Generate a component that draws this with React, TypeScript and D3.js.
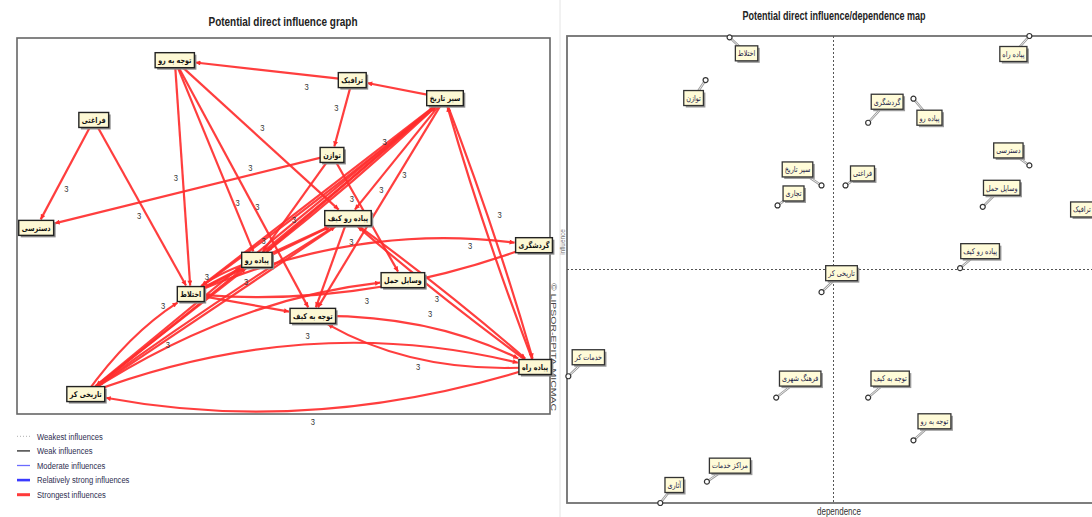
import React, { useEffect, useRef } from 'react';
import * as d3 from 'd3';

// ---------- left panel: potential direct influence graph ----------
const graphVariables = [
  'توجه به رو', 'ترافیک', 'سیر تاریخ', 'فراغتی', 'توازن', 'دسترسی', 'پیاده رو کیف',
  'گردشگری', 'پیاده رو', 'اختلاط', 'وسایل حمل', 'توجه به کیف', 'پیاده راه', 'تاریخی کر',
];

// direct influences shown on the graph [from, to]
const influenceLinks: [string, string][] = [
  ['ترافیک', 'توجه به رو'],
  ['سیر تاریخ', 'ترافیک'],
  ['ترافیک', 'توازن'],
  ['فراغتی', 'دسترسی'],
  ['فراغتی', 'اختلاط'],
  ['توازن', 'دسترسی'],
  ['توجه به رو', 'اختلاط'],
  ['توجه به رو', 'پیاده رو'],
  ['توجه به رو', 'توجه به کیف'],
  ['توجه به رو', 'پیاده رو کیف'],
  ['سیر تاریخ', 'پیاده رو'],
  ['پیاده رو', 'سیر تاریخ'],
  ['سیر تاریخ', 'اختلاط'],
  ['اختلاط', 'سیر تاریخ'],
  ['سیر تاریخ', 'تاریخی کر'],
  ['تاریخی کر', 'سیر تاریخ'],
  ['سیر تاریخ', 'پیاده رو کیف'],
  ['سیر تاریخ', 'توجه به کیف'],
  ['سیر تاریخ', 'پیاده راه'],
  ['پیاده راه', 'سیر تاریخ'],
  ['توازن', 'پیاده رو'],
  ['توازن', 'وسایل حمل'],
  ['پیاده رو کیف', 'توجه به کیف'],
  ['پیاده رو کیف', 'پیاده راه'],
  ['پیاده راه', 'پیاده رو کیف'],
  ['اختلاط', 'گردشگری'],
  ['گردشگری', 'اختلاط'],
  ['اختلاط', 'پیاده رو'],
  ['پیاده رو', 'اختلاط'],
  ['اختلاط', 'توجه به کیف'],
  ['تاریخی کر', 'اختلاط'],
  ['تاریخی کر', 'پیاده رو'],
  ['تاریخی کر', 'پیاده رو کیف'],
  ['پیاده رو کیف', 'تاریخی کر'],
  ['تاریخی کر', 'وسایل حمل'],
  ['تاریخی کر', 'پیاده راه'],
  ['پیاده راه', 'تاریخی کر'],
  ['توجه به کیف', 'پیاده راه'],
  ['پیاده راه', 'توجه به کیف'],
  ['اختلاط', 'پیاده رو کیف'],
  ['پیاده رو', 'پیاده رو کیف'],
];
const linkValues = [
  3, 3, 3, 3, 3, 3, 3, 3, 3, 3, 3, 3, 3, 3, 3, 3, 3, 3, 3, 3, 3,
  3, 3, 3, 3, 3, 3, 3, 3, 3, 3, 3, 3, 3, 3, 3, 3, 3, 3, 3, 3,
];

const legendLabels = [
  'Weakest influences', 'Weak influences', 'Moderate influences',
  'Relatively strong influences', 'Strongest influences',
];

// ---------- right panel: influence / dependence map ----------
const mapVariables = [
  'اختلاط', 'توازن', 'پیاده راه', 'گردشگری', 'پیاده رو', 'دسترسی', 'سیر تاریخ', 'تجاری',
  'فراغتی', 'وسایل حمل', 'ترافیک', 'پیاده رو کیف', 'تاریخی کر', 'خدمات کر', 'فرهنگ شهری',
  'توجه به کیف', 'توجه به رو', 'مراکز خدمات', 'آثاری',
];
const dependence = [12.2, 10.4, 34.7, 22.6, 26.0, 34.7, 19.1, 15.8, 20.9, 31.2, 40.0, 29.5, 19.1, 0.1, 15.7, 22.6, 26.0, 10.5, 7.0];
const influence = [34.9, 31.7, 35.0, 28.5, 30.3, 25.3, 23.8, 22.3, 23.8, 22.2, 21.1, 17.6, 15.8, 9.5, 7.9, 7.9, 4.7, 1.6, 0.0];
const meanDependence = 20;
const meanInfluence = 17.5;

// ---------- layout (not data) ----------
// where MICMAC placed each variable, in % of the graph frame
const nodePlacement: Record<string, [number, number]> = {
  'توجه به رو': [29.6, 5.9],
  'ترافیک': [62.9, 11.2],
  'سیر تاریخ': [80.3, 16.0],
  'فراغتی': [14.4, 21.8],
  'توازن': [59.1, 31.1],
  'دسترسی': [3.6, 50.5],
  'پیاده رو کیف': [62.1, 47.9],
  'گردشگری': [97.0, 55.1],
  'پیاده رو': [45.0, 59.0],
  'اختلاط': [32.6, 68.1],
  'وسایل حمل': [72.4, 64.4],
  'توجه به کیف': [55.5, 73.9],
  'پیاده راه': [97.2, 87.5],
  'تاریخی کر': [12.9, 94.7],
};
// per link: [curvature px, value label position along link (null = none), label offset px]
const linkShape: [number, number | null, number][] = [
  [0, 0.25, -12], [0, null, 0], [0, 0.4, 8], [0, 0.6, -8], [0, 0.53, 7], [0, 0.27, 7],
  [0, 0.5, 7], [0, 0.72, -4], [0, 0.58, -3], [0, 0.47, -9], [0, 0.3, 6], [5, null, 0],
  [0, null, 0], [5, null, 0], [0, 0.496, 5], [6, null, 0], [0, 0.72, -8], [0, 0.34, -5],
  [-6, 0.45, -12], [-6, null, 0], [0, 0.58, -7], [0, 0.33, 4], [0, 0.2, -11], [-5, 0.5, 10],
  [-5, null, 0], [-48, 0.82, 6], [-38, 0.5, -12], [0, 0.3, -8], [6, null, 0], [0, null, 0],
  [-14, 0.8, -6], [0, null, 0], [0, 0.62, -4], [6, null, 0], [-40, 0.28, -3], [-70, 0.5, -10],
  [-56, 0.5, -13], [-28, 0.5, -14], [-34, 0.5, -9], [0, null, 0], [0, null, 0],
];
// label box offset from its point on the map
const labelOffset: Record<string, [number, number]> = {
  'اختلاط': [17, 16], 'توازن': [-12, 18], 'پیاده راه': [-16, 18], 'گردشگری': [19, -21],
  'پیاده رو': [16, 19], 'دسترسی': [-21, -15], 'سیر تاریخ': [-24, -16], 'تجاری': [16, -12],
  'فراغتی': [17, -12], 'وسایل حمل': [19, -19], 'ترافیک': [-18, -12], 'پیاده رو کیف': [20, -17],
  'تاریخی کر': [20, -19], 'خدمات کر': [20, -19], 'فرهنگ شهری': [24, -19], 'توجه به کیف': [22, -19],
  'توجه به رو': [21, -19], 'مراکز خدمات': [23, -16], 'آثاری': [14, -18],
};

const sans = "'Liberation Sans', Arial, sans-serif";
const persian = "'DejaVu Sans', sans-serif";
const red = '#ff2e2e';
const squeeze = 0.8; // narrow look of the original fonts

export default function App() {
  const svgRef = useRef<SVGSVGElement>(null);

  useEffect(() => {
    const svg = d3.select(svgRef.current);
    svg.selectAll('*').remove();

    // narrow text helper
    const narrowText = (
      parent: d3.Selection<any, any, any, any>, x: number, y: number, txt: string | number,
      size: number, anchor = 'start', fill = '#333'
    ) =>
      parent.append('text')
        .attr('transform', `translate(${x},${y}) scale(${squeeze},1)`)
        .attr('text-anchor', anchor).attr('dy', '0.35em')
        .attr('font-family', sans).attr('font-size', size).attr('fill', fill)
        .text(txt);

    svg.append('defs').append('marker')
      .attr('id', 'arrow').attr('viewBox', '0 0 10 10').attr('refX', 10).attr('refY', 5)
      .attr('markerWidth', 6).attr('markerHeight', 5).attr('markerUnits', 'userSpaceOnUse')
      .attr('orient', 'auto')
      .append('path').attr('d', 'M0,0L10,5L0,10z').attr('fill', red);

    // divider between the two panels
    svg.append('line').attr('x1', 560).attr('x2', 560).attr('y1', 0).attr('y2', 517)
      .attr('stroke', '#e4e4e4');

    // ===== left panel =====
    const frame = { x: 17, y: 38, w: 533, h: 376 };
    const gx = d3.scaleLinear().domain([0, 100]).range([frame.x, frame.x + frame.w]);
    const gy = d3.scaleLinear().domain([0, 100]).range([frame.y, frame.y + frame.h]);

    svg.append('text').attr('x', 283).attr('y', 26).attr('text-anchor', 'middle')
      .attr('font-family', sans).attr('font-size', 13).attr('font-weight', 'bold')
      .attr('fill', '#222').attr('textLength', 149).attr('lengthAdjust', 'spacingAndGlyphs')
      .text('Potential direct influence graph');

    svg.append('rect').attr('x', frame.x).attr('y', frame.y).attr('width', frame.w)
      .attr('height', frame.h).attr('fill', 'white').attr('stroke', '#666').attr('stroke-width', 1.6);

    svg.append('text').attr('transform', 'translate(551,283) rotate(90)')
      .attr('font-family', sans).attr('font-size', 8).attr('fill', '#444')
      .attr('textLength', 128).attr('lengthAdjust', 'spacingAndGlyphs')
      .text('© LIPSOR-EPITA-MICMAC');

    const linkLayer = svg.append('g');
    const valueLayer = svg.append('g');
    const nodeLayer = svg.append('g');

    const pos = new Map<string, [number, number]>(
      graphVariables.map(v => [v, [gx(nodePlacement[v][0]), gy(nodePlacement[v][1])]])
    );
    const half = new Map<string, [number, number]>();

    const nodes = nodeLayer.selectAll('g').data(graphVariables).join('g')
      .attr('transform', d => `translate(${pos.get(d)![0]},${pos.get(d)![1]})`);
    nodes.append('text').attr('text-anchor', 'middle').attr('dy', '0.35em')
      .attr('transform', `scale(${squeeze},1)`)
      .attr('font-family', persian).attr('font-size', 8).attr('font-weight', 'bold')
      .attr('fill', '#111').text(d => d);
    nodes.each(function (d) {
      const g = d3.select(this);
      const w = (g.select('text').node() as SVGTextElement).getComputedTextLength() * squeeze + 6;
      const h = 15;
      half.set(d, [w / 2, h / 2]);
      g.insert('rect', 'text').attr('x', -w / 2 + 2).attr('y', -h / 2 + 2)
        .attr('width', w).attr('height', h).attr('fill', '#8c8c8c');
      g.insert('rect', 'text').attr('x', -w / 2).attr('y', -h / 2)
        .attr('width', w).attr('height', h).attr('fill', '#fdf8d4')
        .attr('stroke', '#222').attr('stroke-width', 1.4);
    });

    influenceLinks.forEach(([a, b], i) => {
      const [bend, lt, lo] = linkShape[i];
      const p0 = pos.get(a)!;
      const p1 = pos.get(b)!;
      const dx = p1[0] - p0[0];
      const dy = p1[1] - p0[1];
      const len = Math.hypot(dx, dy);
      const nx = -dy / len;
      const ny = dx / len;
      const c: [number, number] = [(p0[0] + p1[0]) / 2 + nx * bend, (p0[1] + p1[1]) / 2 + ny * bend];
      const [hw, hh] = half.get(b)!;
      const vx = c[0] - p1[0];
      const vy = c[1] - p1[1];
      const s = Math.min(
        vx ? (hw + 1) / Math.abs(vx) : Infinity,
        vy ? (hh + 1) / Math.abs(vy) : Infinity
      );
      const end = [p1[0] + vx * s, p1[1] + vy * s];
      const path = d3.path();
      path.moveTo(p0[0], p0[1]);
      path.quadraticCurveTo(c[0], c[1], end[0], end[1]);
      linkLayer.append('path').attr('d', path.toString()).attr('fill', 'none')
        .attr('stroke', red).attr('stroke-width', 2.2).attr('stroke-opacity', 0.92)
        .attr('marker-end', 'url(#arrow)');

      if (lt != null) {
        const t = lt;
        const u = 1 - t;
        const bx = u * u * p0[0] + 2 * u * t * c[0] + t * t * p1[0];
        const by = u * u * p0[1] + 2 * u * t * c[1] + t * t * p1[1];
        const tx = 2 * u * (c[0] - p0[0]) + 2 * t * (p1[0] - c[0]);
        const ty = 2 * u * (c[1] - p0[1]) + 2 * t * (p1[1] - c[1]);
        const tl = Math.hypot(tx, ty);
        narrowText(valueLayer, bx + (-ty / tl) * lo, by + (tx / tl) * lo, linkValues[i], 9.5, 'middle', '#333');
      }
    });

    // legend
    const legendY = d3.scaleBand<string>().domain(legendLabels).range([429, 502]);
    const legendStyle = [
      { stroke: '#b0b0b0', width: 1, dash: '1,2' },
      { stroke: '#444', width: 1.5, dash: null },
      { stroke: '#6b6bff', width: 1.3, dash: null },
      { stroke: '#3a3aff', width: 2.6, dash: null },
      { stroke: '#ff3a3a', width: 3, dash: null },
    ];
    legendLabels.forEach((lab, i) => {
      const y = legendY(lab)! + legendY.bandwidth() / 2;
      svg.append('line').attr('x1', 17).attr('x2', 30).attr('y1', y).attr('y2', y)
        .attr('stroke', legendStyle[i].stroke).attr('stroke-width', legendStyle[i].width)
        .attr('stroke-dasharray', legendStyle[i].dash);
      narrowText(svg, 37, y, lab, 9.5, 'start', '#2e2e50');
    });

    // ===== right panel =====
    const x = d3.scaleLinear().domain([0, 40]).range([567, 1100]);
    const y = d3.scaleLinear().domain([0, 35]).range([503, 36]);

    svg.append('text').attr('x', 834).attr('y', 20).attr('text-anchor', 'middle')
      .attr('font-family', sans).attr('font-size', 12).attr('font-weight', 'bold')
      .attr('fill', '#222').attr('textLength', 183).attr('lengthAdjust', 'spacingAndGlyphs')
      .text('Potential direct influence/dependence map');

    svg.append('rect').attr('x', x(0)).attr('y', y(35)).attr('width', x(40) - x(0))
      .attr('height', y(0) - y(35)).attr('fill', 'white').attr('stroke', '#707070')
      .attr('stroke-width', 1.8);

    svg.append('line').attr('x1', x(meanDependence)).attr('x2', x(meanDependence))
      .attr('y1', y(35)).attr('y2', y(0)).attr('stroke', '#555').attr('stroke-dasharray', '2,2');
    svg.append('line').attr('x1', x(0)).attr('x2', x(40))
      .attr('y1', y(meanInfluence)).attr('y2', y(meanInfluence))
      .attr('stroke', '#555').attr('stroke-dasharray', '2,2');

    narrowText(svg, 839, 511, 'dependence', 10, 'middle', '#333');
    svg.append('text').attr('transform', 'translate(565,242) rotate(-90) scale(0.8,1)').attr('text-anchor', 'middle')
      .attr('font-family', sans).attr('font-size', 8).attr('fill', '#777').text('influence');

    const pts = svg.append('g').selectAll('g').data(mapVariables).join('g')
      .attr('transform', (d, i) => `translate(${x(dependence[i])},${y(influence[i])})`);
    pts.append('line').attr('x1', 0).attr('y1', 0)
      .attr('x2', d => labelOffset[d][0]).attr('y2', d => labelOffset[d][1])
      .attr('stroke', '#999').attr('stroke-width', 2.4);
    pts.append('line').attr('x1', 0).attr('y1', 0)
      .attr('x2', d => labelOffset[d][0]).attr('y2', d => labelOffset[d][1])
      .attr('stroke', '#fff').attr('stroke-width', 0.8);
    pts.append('circle').attr('r', 2.5).attr('fill', '#fff').attr('stroke', '#333').attr('stroke-width', 1.2);
    const lbl = pts.append('g').attr('transform', d => `translate(${labelOffset[d][0]},${labelOffset[d][1]})`);
    lbl.append('text').attr('text-anchor', 'middle').attr('dy', '0.35em')
      .attr('transform', `scale(${squeeze},1)`)
      .attr('font-family', persian).attr('font-size', 8).attr('fill', '#1c1c48').text(d => d);
    lbl.each(function () {
      const g = d3.select(this);
      const w = (g.select('text').node() as SVGTextElement).getComputedTextLength() * squeeze + 5;
      const h = 15;
      g.insert('rect', 'text').attr('x', -w / 2 + 2).attr('y', -h / 2 + 2)
        .attr('width', w).attr('height', h).attr('fill', '#9a9a9a');
      g.insert('rect', 'text').attr('x', -w / 2).attr('y', -h / 2)
        .attr('width', w).attr('height', h).attr('fill', '#fffbd8')
        .attr('stroke', '#333').attr('stroke-width', 1.3);
    });
  }, []);

  return (
    <svg
      ref={svgRef}
      width={1092}
      height={517}
      style={{ position: 'absolute', left: 0, top: 0, background: 'white' }}
    />
  );
}
